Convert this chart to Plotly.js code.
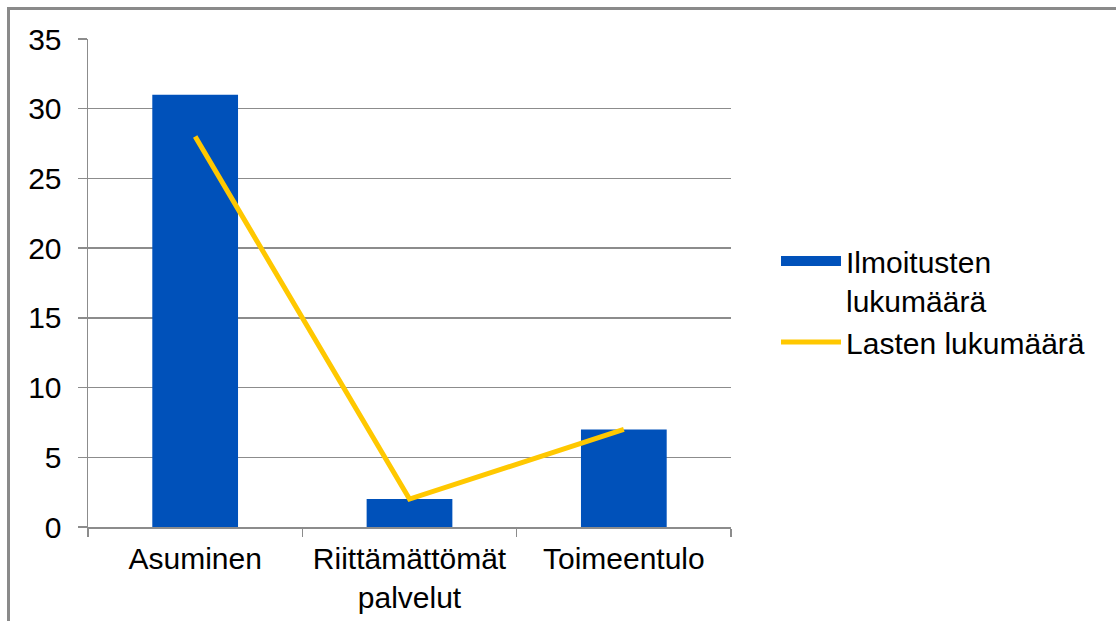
<!DOCTYPE html>
<html>
<head>
<meta charset="utf-8">
<script src="https://cdn.plot.ly/plotly-3.0.1.min.js"></script>
<style>
html,body{margin:0;padding:0;overflow:hidden;background:#fff;}
#chart{position:absolute;left:0;top:0;width:1116px;height:621px;}
#frame{position:absolute;left:7px;top:7px;width:1200px;height:700px;border-left:3px solid #8a8a8a;border-top:3px solid #8a8a8a;pointer-events:none;}
</style>
</head>
<body>
<div id="chart"></div>
<div id="frame"></div>
<script>
const categories = ["Asuminen", "Riittämättömät<br>palvelut", "Toimeentulo"];
const ilmoitukset = [31, 2, 7];
const lapset = [28, 2, 7];
const seriesNames = ["Ilmoitusten<br>lukumäärä", "Lasten lukumäärä"];
const yTicks = [0, 5, 10, 15, 20, 25, 30, 35];

const blue = "#0051BA";
const yellow = "#FFC800";
const grid = "#8c8c8c";
const font = {family: "Liberation Sans, Arial, sans-serif", size: 30, color: "#000"};

const traces = [
  {type: "bar", x: categories, y: ilmoitukset, name: seriesNames[0], marker: {color: blue}, showlegend: false, hoverinfo: "x+y"},
  {type: "scatter", mode: "lines", x: [null], y: [null], name: seriesNames[0], line: {color: blue, width: 13}, showlegend: true, hoverinfo: "skip"},
  {type: "scatter", mode: "lines", x: categories, y: lapset, name: seriesNames[1], line: {color: yellow, width: 5}}
];

const layout = {
  width: 1116, height: 621,
  margin: {l: 88, r: 385, t: 39, b: 94},
  paper_bgcolor: "#fff", plot_bgcolor: "#fff",
  font: font,
  bargap: 0.6,
  xaxis: {
    type: "category", range: [-0.5, 2.5], tickson: "boundaries",
    ticks: "outside", ticklen: 8, tickcolor: grid, tickwidth: 1.5,
    showline: true, linecolor: grid, linewidth: 1.5,
    showgrid: false, tickfont: font, ticklabelstandoff: 4, automargin: false
  },
  yaxis: {
    range: [0, 35], tickvals: yTicks, ticktext: yTicks.map(String),
    ticks: "outside", ticklen: 9, tickcolor: grid, tickwidth: 1.5,
    showline: true, linecolor: grid, linewidth: 1.5,
    gridcolor: grid, gridwidth: 1.5, zeroline: false,
    tickfont: font, ticklabelstandoff: 10, automargin: false
  },
  legend: {
    x: 1.07, xanchor: "left", y: 0.462, yanchor: "middle",
    itemwidth: 60, font: font, bgcolor: "rgba(0,0,0,0)",
    tracegroupgap: 0, valign: "top"
  },
  showlegend: true
};

Plotly.newPlot("chart", traces, layout, {displayModeBar: false, staticPlot: true});
</script>
</body>
</html>
